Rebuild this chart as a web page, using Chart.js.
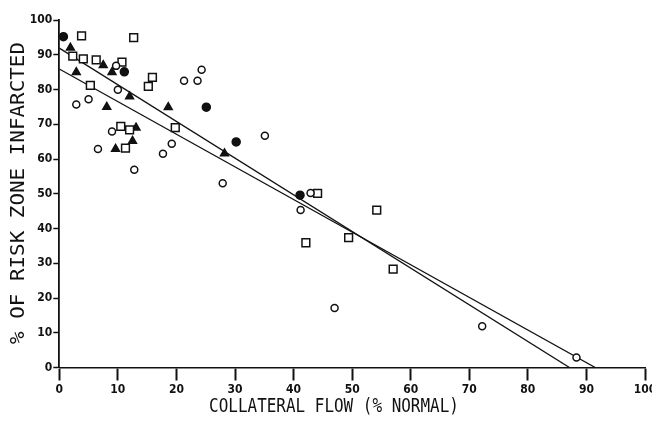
<!DOCTYPE html>
<html>
<head>
<meta charset="utf-8">
<script src="https://cdn.jsdelivr.net/npm/chart.js@4.4.1/dist/chart.umd.min.js"></script>
<style>
  html, body { margin: 0; padding: 0; background: #fff; }
  #wrap { width: 652px; height: 431px; }
</style>
</head>
<body>
<div id="wrap"><canvas id="infarct"></canvas></div>
<script>
// points, [collateral flow, % infarcted]
var filledCircles = [[0.7, 95.2], [11.1, 85.1], [25.1, 74.9], [30.2, 64.9], [41.1, 49.6]];
var triangles = [[1.9, 92.0], [2.9, 85.0], [7.5, 87.0], [9.0, 85.0], [8.1, 75.0], [12.0, 78.0],
  [18.6, 74.9], [13.1, 69.0], [12.5, 65.2], [9.6, 62.9], [28.2, 61.6]];
var openCircles = [[9.7, 86.8], [10.0, 79.9], [2.9, 75.7], [5.0, 77.2], [24.3, 85.7], [21.3, 82.5],
  [23.6, 82.5], [9.0, 67.9], [6.6, 62.9], [12.8, 56.9], [17.7, 61.5], [19.2, 64.4], [35.1, 66.7],
  [27.9, 53.0], [42.9, 50.2], [41.2, 45.3], [47.0, 17.1], [72.2, 11.9], [88.3, 2.9]];
var squares = [[3.8, 95.4], [12.7, 94.9], [2.3, 89.6], [4.1, 88.8], [6.3, 88.5], [10.7, 87.9],
  [5.3, 81.2], [15.9, 83.5], [15.2, 80.9], [10.5, 69.4], [12.0, 68.4], [19.8, 69.0], [11.3, 63.1],
  [44.1, 50.1], [54.2, 45.3], [42.1, 35.9], [49.4, 37.4], [57.0, 28.3]];
// regression lines, start and end
var fitSteep = [[0, 91.9], [87.1, 0]];
var fitFlat = [[0, 85.9], [91.5, 0]];

var xTicks = [0, 10, 20, 30, 40, 50, 60, 70, 80, 90, 100];
var yTicks = [0, 10, 20, 30, 40, 50, 60, 70, 80, 90, 100];
var xTitle = "COLLATERAL FLOW (% NORMAL)";
var yTitle = "% OF RISK ZONE INFARCTED";

var ink = "#111";
var tickFont = { family: "'Liberation Sans Narrow', 'DejaVu Sans Condensed', sans-serif", size: 12, weight: "bold" };

function toXY(list) {
  return list.map(function (p) { return { x: p[0], y: p[1] }; });
}

function markers(list, style, fill, r) {
  return {
    data: toXY(list),
    pointStyle: style,
    pointRadius: r,
    pointBackgroundColor: fill,
    pointBorderColor: ink,
    pointBorderWidth: 1.5,
    order: 1
  };
}

function fitLine(list) {
  return {
    type: "line",
    data: toXY(list),
    showLine: true,
    borderColor: ink,
    borderWidth: 1.3,
    pointRadius: 0,
    fill: false,
    order: 2
  };
}

// the plotter lettering is narrow, so the titles get drawn by hand
var axisTitles = {
  id: "axisTitles",
  afterDraw: function (chart) {
    var ctx = chart.ctx;
    ctx.save();
    ctx.fillStyle = ink;
    ctx.textAlign = "center";
    ctx.textBaseline = "middle";
    ctx.font = "19px 'DejaVu Sans Mono'";
    ctx.translate(334, 407);
    ctx.scale(0.84, 1);
    ctx.fillText(xTitle, 0, 0);
    ctx.restore();

    ctx.save();
    ctx.fillStyle = ink;
    ctx.textAlign = "center";
    ctx.textBaseline = "middle";
    ctx.font = "19px 'DejaVu Sans Mono'";
    ctx.translate(19, 193);
    ctx.rotate(-Math.PI / 2);
    ctx.scale(1.1, 1);
    ctx.fillText(yTitle, 0, 0);
    ctx.restore();
  }
};

new Chart("infarct", {
  type: "scatter",
  data: {
    datasets: [
      fitLine(fitSteep),
      fitLine(fitFlat),
      markers(openCircles, "circle", "#fff", 3.5),
      markers(squares, "rect", "#fff", 5.5),
      markers(triangles, "triangle", ink, 4.5),
      markers(filledCircles, "circle", ink, 4)
    ]
  },
  options: {
    animation: false,
    responsive: true,
    maintainAspectRatio: false,
    layout: { padding: { top: 20, right: 2, left: 0, bottom: 0 } },
    plugins: { legend: { display: false }, tooltip: { enabled: false } },
    scales: {
      x: {
        type: "linear",
        min: 0,
        max: 100,
        afterBuildTicks: function (scale) {
          scale.ticks = xTicks.map(function (v) { return { value: v }; });
        },
        afterFit: function (scale) {
          scale.height = 63.5;
          scale.paddingLeft = 0;
          scale.paddingRight = 0;
        },
        grid: { drawOnChartArea: false, drawTicks: true, tickLength: 13, tickWidth: 2, color: ink },
        border: { display: true, color: ink, width: 1.6 },
        ticks: { color: ink, font: tickFont, padding: 2, maxRotation: 0, autoSkip: false }
      },
      y: {
        type: "linear",
        min: 0,
        max: 100,
        afterBuildTicks: function (scale) {
          scale.ticks = yTicks.map(function (v) { return { value: v }; });
        },
        afterFit: function (scale) {
          scale.width = 59.3;
          scale.paddingTop = 0;
          scale.paddingBottom = 0;
        },
        grid: { drawOnChartArea: false, drawTicks: true, tickLength: 6, tickWidth: 1.5, color: ink },
        border: { display: true, color: ink, width: 1.8 },
        ticks: { color: ink, font: tickFont, padding: 1, autoSkip: false }
      }
    }
  },
  plugins: [axisTitles]
});
</script>
</body>
</html>
